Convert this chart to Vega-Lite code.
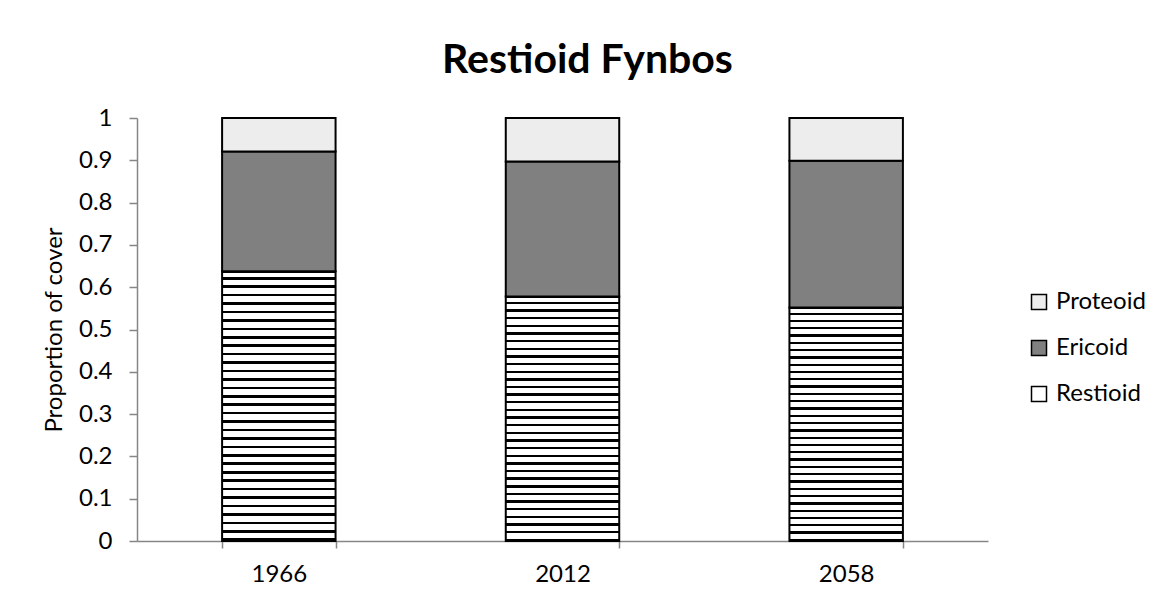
{
  "$schema": "https://vega.github.io/schema/vega-lite/v6.json",
  "autosize": {"type": "none"},
  "width": 851,
  "height": 423,
  "padding": {"left": 137, "top": 118, "right": 182, "bottom": 64},
  "background": "white",
  "title": {"text": "Restioid Fynbos", "font": "Lato", "fontSize": 41, "fontWeight": "bold", "color": "#000000", "anchor": "middle", "dx": 25, "offset": 24},
  "data": {"values": [
    {"Year": "1966", "Type": "Restioid", "Cover": 0.638},
    {"Year": "1966", "Type": "Ericoid", "Cover": 0.283},
    {"Year": "1966", "Type": "Proteoid", "Cover": 0.079},
    {"Year": "2012", "Type": "Restioid", "Cover": 0.578},
    {"Year": "2012", "Type": "Ericoid", "Cover": 0.319},
    {"Year": "2012", "Type": "Proteoid", "Cover": 0.103},
    {"Year": "2058", "Type": "Restioid", "Cover": 0.552},
    {"Year": "2058", "Type": "Ericoid", "Cover": 0.347},
    {"Year": "2058", "Type": "Proteoid", "Cover": 0.101}
  ]},
  "mark": {"type": "bar", "stroke": "#000000", "strokeWidth": 2, "opacity": 1, "fillOpacity": 1},
  "encoding": {
    "x": {"field": "Year", "type": "nominal", "scale": {"paddingInner": 0.6, "paddingOuter": 0.3},
      "axis": {"title": null, "labelAngle": 0, "labelFont": "Lato", "labelFontSize": 24, "labelColor": "#000000", "domainColor": "#868686", "domainWidth": 1.5, "tickColor": "#868686", "tickWidth": 1.5, "tickSize": 7, "tickBand": "extent", "labelPadding": 14}},
    "y": {"field": "Cover", "type": "quantitative", "stack": "zero", "scale": {"domain": [0, 1], "nice": false},
      "axis": {"title": "Proportion of cover", "titleFont": "Lato", "titleFontSize": 24, "titleFontWeight": "normal", "titleColor": "#000000", "titlePadding": 12, "values": [0, 0.1, 0.2, 0.3, 0.4, 0.5, 0.6, 0.7, 0.8, 0.9, 1], "format": "~g", "labelFont": "Lato", "labelFontSize": 24, "labelColor": "#000000", "labelPadding": 17, "domainColor": "#868686", "domainWidth": 1.5, "tickColor": "#868686", "tickWidth": 1.5, "tickSize": 8, "grid": false}},
    "order": {"field": "Cover", "type": "quantitative", "sort": "descending"},
    "fill": {
      "condition": {"test": "datum.Type === 'Restioid'", "value": {"gradient": "linear", "x1": 0, "y1": 0, "x2": 0, "y2": 1, "stops": [
        {"offset": 0, "color": "#000000"}, {"offset": 0.008, "color": "#000000"}, {"offset": 0.008, "color": "#ffffff"},
        {"offset": 0.0215, "color": "#ffffff"}, {"offset": 0.0215, "color": "#000000"}, {"offset": 0.03125, "color": "#000000"}, {"offset": 0.03125, "color": "#ffffff"},
        {"offset": 0.05275, "color": "#ffffff"}, {"offset": 0.05275, "color": "#000000"}, {"offset": 0.0625, "color": "#000000"}, {"offset": 0.0625, "color": "#ffffff"},
        {"offset": 0.084, "color": "#ffffff"}, {"offset": 0.084, "color": "#000000"}, {"offset": 0.09375, "color": "#000000"}, {"offset": 0.09375, "color": "#ffffff"},
        {"offset": 0.11525, "color": "#ffffff"}, {"offset": 0.11525, "color": "#000000"}, {"offset": 0.125, "color": "#000000"}, {"offset": 0.125, "color": "#ffffff"},
        {"offset": 0.1465, "color": "#ffffff"}, {"offset": 0.1465, "color": "#000000"}, {"offset": 0.15625, "color": "#000000"}, {"offset": 0.15625, "color": "#ffffff"},
        {"offset": 0.17775, "color": "#ffffff"}, {"offset": 0.17775, "color": "#000000"}, {"offset": 0.1875, "color": "#000000"}, {"offset": 0.1875, "color": "#ffffff"},
        {"offset": 0.209, "color": "#ffffff"}, {"offset": 0.209, "color": "#000000"}, {"offset": 0.21875, "color": "#000000"}, {"offset": 0.21875, "color": "#ffffff"},
        {"offset": 0.24025, "color": "#ffffff"}, {"offset": 0.24025, "color": "#000000"}, {"offset": 0.25, "color": "#000000"}, {"offset": 0.25, "color": "#ffffff"},
        {"offset": 0.2715, "color": "#ffffff"}, {"offset": 0.2715, "color": "#000000"}, {"offset": 0.28125, "color": "#000000"}, {"offset": 0.28125, "color": "#ffffff"},
        {"offset": 0.30275, "color": "#ffffff"}, {"offset": 0.30275, "color": "#000000"}, {"offset": 0.3125, "color": "#000000"}, {"offset": 0.3125, "color": "#ffffff"},
        {"offset": 0.334, "color": "#ffffff"}, {"offset": 0.334, "color": "#000000"}, {"offset": 0.34375, "color": "#000000"}, {"offset": 0.34375, "color": "#ffffff"},
        {"offset": 0.36525, "color": "#ffffff"}, {"offset": 0.36525, "color": "#000000"}, {"offset": 0.375, "color": "#000000"}, {"offset": 0.375, "color": "#ffffff"},
        {"offset": 0.3965, "color": "#ffffff"}, {"offset": 0.3965, "color": "#000000"}, {"offset": 0.40625, "color": "#000000"}, {"offset": 0.40625, "color": "#ffffff"},
        {"offset": 0.42775, "color": "#ffffff"}, {"offset": 0.42775, "color": "#000000"}, {"offset": 0.4375, "color": "#000000"}, {"offset": 0.4375, "color": "#ffffff"},
        {"offset": 0.459, "color": "#ffffff"}, {"offset": 0.459, "color": "#000000"}, {"offset": 0.46875, "color": "#000000"}, {"offset": 0.46875, "color": "#ffffff"},
        {"offset": 0.49025, "color": "#ffffff"}, {"offset": 0.49025, "color": "#000000"}, {"offset": 0.5, "color": "#000000"}, {"offset": 0.5, "color": "#ffffff"},
        {"offset": 0.5215, "color": "#ffffff"}, {"offset": 0.5215, "color": "#000000"}, {"offset": 0.53125, "color": "#000000"}, {"offset": 0.53125, "color": "#ffffff"},
        {"offset": 0.55275, "color": "#ffffff"}, {"offset": 0.55275, "color": "#000000"}, {"offset": 0.5625, "color": "#000000"}, {"offset": 0.5625, "color": "#ffffff"},
        {"offset": 0.584, "color": "#ffffff"}, {"offset": 0.584, "color": "#000000"}, {"offset": 0.59375, "color": "#000000"}, {"offset": 0.59375, "color": "#ffffff"},
        {"offset": 0.61525, "color": "#ffffff"}, {"offset": 0.61525, "color": "#000000"}, {"offset": 0.625, "color": "#000000"}, {"offset": 0.625, "color": "#ffffff"},
        {"offset": 0.6465, "color": "#ffffff"}, {"offset": 0.6465, "color": "#000000"}, {"offset": 0.65625, "color": "#000000"}, {"offset": 0.65625, "color": "#ffffff"},
        {"offset": 0.67775, "color": "#ffffff"}, {"offset": 0.67775, "color": "#000000"}, {"offset": 0.6875, "color": "#000000"}, {"offset": 0.6875, "color": "#ffffff"},
        {"offset": 0.709, "color": "#ffffff"}, {"offset": 0.709, "color": "#000000"}, {"offset": 0.71875, "color": "#000000"}, {"offset": 0.71875, "color": "#ffffff"},
        {"offset": 0.74025, "color": "#ffffff"}, {"offset": 0.74025, "color": "#000000"}, {"offset": 0.75, "color": "#000000"}, {"offset": 0.75, "color": "#ffffff"},
        {"offset": 0.7715, "color": "#ffffff"}, {"offset": 0.7715, "color": "#000000"}, {"offset": 0.78125, "color": "#000000"}, {"offset": 0.78125, "color": "#ffffff"},
        {"offset": 0.80275, "color": "#ffffff"}, {"offset": 0.80275, "color": "#000000"}, {"offset": 0.8125, "color": "#000000"}, {"offset": 0.8125, "color": "#ffffff"},
        {"offset": 0.834, "color": "#ffffff"}, {"offset": 0.834, "color": "#000000"}, {"offset": 0.84375, "color": "#000000"}, {"offset": 0.84375, "color": "#ffffff"},
        {"offset": 0.86525, "color": "#ffffff"}, {"offset": 0.86525, "color": "#000000"}, {"offset": 0.875, "color": "#000000"}, {"offset": 0.875, "color": "#ffffff"},
        {"offset": 0.8965, "color": "#ffffff"}, {"offset": 0.8965, "color": "#000000"}, {"offset": 0.90625, "color": "#000000"}, {"offset": 0.90625, "color": "#ffffff"},
        {"offset": 0.92775, "color": "#ffffff"}, {"offset": 0.92775, "color": "#000000"}, {"offset": 0.9375, "color": "#000000"}, {"offset": 0.9375, "color": "#ffffff"},
        {"offset": 0.959, "color": "#ffffff"}, {"offset": 0.959, "color": "#000000"}, {"offset": 0.96875, "color": "#000000"}, {"offset": 0.96875, "color": "#ffffff"},
        {"offset": 0.99025, "color": "#ffffff"}, {"offset": 0.99025, "color": "#000000"}, {"offset": 1, "color": "#000000"}
      ]}},
      "field": "Type", "type": "nominal",
      "scale": {"domain": ["Proteoid", "Ericoid", "Restioid"], "range": ["#ededed", "#808080", "#ffffff"]},
      "legend": {"title": null, "orient": "none", "legendX": 890, "legendY": 172, "symbolType": "square", "symbolSize": 225, "symbolStrokeColor": "#000000", "symbolStrokeWidth": 1.5, "labelFont": "Lato", "labelFontSize": 24, "labelColor": "#000000", "labelOffset": 5, "rowPadding": 22, "labelLimit": 300}}
  },
  "config": {"view": {"stroke": null}}
}
